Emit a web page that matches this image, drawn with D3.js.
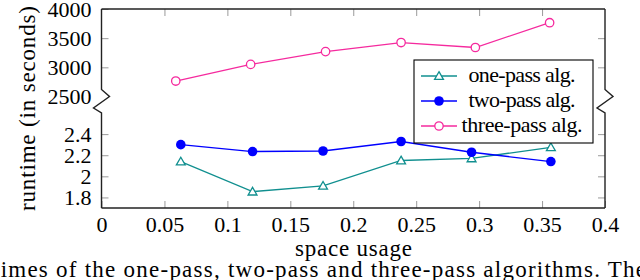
<!DOCTYPE html>
<html>
<head>
<meta charset="utf-8">
<script src="https://cdn.jsdelivr.net/npm/d3@7"></script>
<style>
  body { margin: 0; background: #fff; }
  svg { display: block; }
</style>
</head>
<body>
<div id="chart"></div>
<script>
// Data
let xTicks = [0, 0.05, 0.1, 0.15, 0.2, 0.25, 0.3, 0.35, 0.4];
let upperTicks = [2500, 3000, 3500, 4000];
let lowerTicks = [1.8, 2, 2.2, 2.4];

let onePassX = [0.063, 0.120, 0.176, 0.238, 0.294, 0.357];
let onePassY = [2.14, 1.855, 1.91, 2.15, 2.17, 2.275];

let twoPassX = [0.063, 0.120, 0.176, 0.238, 0.294, 0.357];
let twoPassY = [2.30, 2.235, 2.24, 2.33, 2.228, 2.14];

let threePassX = [0.059, 0.1185, 0.178, 0.238, 0.297, 0.356];
let threePassY = [2765, 3050, 3270, 3425, 3340, 3765];

let legendNames = ["one-pass alg.", "two-pass alg.", "three-pass alg."];

let svgWidth = 640;
let svgHeight = 280;
let font = "'Liberation Serif'";

let svg = d3.select("#chart")
  .append("svg")
  .attr("width", svgWidth)
  .attr("height", svgHeight);

// plot frame
let plotLeft = 101.5, plotRight = 605, plotTop = 9, plotBottom = 208;

let x = d3.scaleLinear().domain([0, 0.4]).range([plotLeft, plotRight]);
// upper part of the broken axis
let yUp = d3.scaleLinear().domain([2500, 4000]).range([96.5, plotTop]);
// lower part
let yLow = d3.scaleLinear().domain([1.7, 2.6]).range([plotBottom, 113]);

let tickLen = 7;
let fontSize = 22;

function styleTicks(g) {
  g.attr("font-family", null).attr("font-size", null);
  g.select(".domain").remove();
  g.selectAll(".tick line").attr("stroke", "#9a9a9a").attr("stroke-width", 1);
  g.selectAll("text")
    .attr("fill", "#000")
    .style("font-family", font)
    .style("font-size", fontSize + "px");
}

// bottom x axis
svg.append("g")
  .attr("transform", `translate(0, ${plotBottom})`)
  .call(d3.axisBottom(x).tickValues(xTicks).tickSizeInner(-tickLen).tickSizeOuter(0)
    .tickPadding(8).tickFormat(d => String(d)))
  .call(styleTicks);

// top x ticks (no labels)
svg.append("g")
  .attr("transform", `translate(0, ${plotTop})`)
  .call(d3.axisTop(x).tickValues(xTicks.slice(1, -1)).tickSizeInner(-tickLen).tickSizeOuter(0).tickFormat(""))
  .call(styleTicks);

// left y axes
svg.append("g")
  .attr("transform", `translate(${plotLeft}, 0)`)
  .call(d3.axisLeft(yUp).tickValues(upperTicks).tickSizeInner(-tickLen).tickSizeOuter(0)
    .tickPadding(10).tickFormat(d => String(d)))
  .call(styleTicks);

svg.append("g")
  .attr("transform", `translate(${plotLeft}, 0)`)
  .call(d3.axisLeft(yLow).tickValues(lowerTicks).tickSizeInner(-tickLen).tickSizeOuter(0)
    .tickPadding(10).tickFormat(d => String(d)))
  .call(styleTicks);

// right y ticks (mirrored)
svg.append("g")
  .attr("transform", `translate(${plotRight}, 0)`)
  .call(d3.axisRight(yUp).tickValues(upperTicks.slice(0, -1)).tickSizeInner(-tickLen).tickSizeOuter(0).tickFormat(""))
  .call(styleTicks);

svg.append("g")
  .attr("transform", `translate(${plotRight}, 0)`)
  .call(d3.axisRight(yLow).tickValues(lowerTicks).tickSizeInner(-tickLen).tickSizeOuter(0).tickFormat(""))
  .call(styleTicks);

// hide the 2500 tick lines that sit on the break
svg.selectAll(".tick").filter(d => d === 2500).select("line").remove();

// frame with break zigzags
let bTop = yUp(2620), bMid1 = yUp(2500), bMid2 = yLow(2.6) - 5, bBot = yLow(2.6);
function sidePath(xx) {
  return [[xx, plotTop], [xx, bTop], [xx + 8, bMid1], [xx - 8, bMid2], [xx, bBot], [xx, plotBottom]];
}
let line = d3.line();
svg.append("path")
  .attr("d", line(sidePath(plotLeft)))
  .attr("fill", "none").attr("stroke", "#222").attr("stroke-width", 1.4);
svg.append("path")
  .attr("d", line(sidePath(plotRight)))
  .attr("fill", "none").attr("stroke", "#222").attr("stroke-width", 1.4);
svg.append("path")
  .attr("d", line([[plotLeft, plotTop], [plotRight, plotTop]]))
  .attr("stroke", "#222").attr("stroke-width", 1.4);
svg.append("path")
  .attr("d", line([[plotLeft, plotBottom], [plotRight, plotBottom]]))
  .attr("stroke", "#222").attr("stroke-width", 1.4);

// series
let teal = "#108f8f", blue = "#0000ff", pink = "#f52a9e";

let series = [
  { xs: onePassX, ys: onePassY, scale: yLow, color: teal, marker: "tri" },
  { xs: twoPassX, ys: twoPassY, scale: yLow, color: blue, marker: "dot" },
  { xs: threePassX, ys: threePassY, scale: yUp, color: pink, marker: "ring" }
];

let triangle = d3.symbol().type(d3.symbolTriangle).size(34);

function drawMarker(g, marker, color) {
  if (marker === "tri") {
    g.append("path").attr("d", triangle()).attr("transform", "translate(0,0.8)")
      .attr("fill", "#fff").attr("stroke", color).attr("stroke-width", 1.3);
  } else if (marker === "dot") {
    g.append("circle").attr("r", 4.8).attr("fill", color);
  } else {
    g.append("circle").attr("r", 4.2).attr("fill", "#fff").attr("stroke", color).attr("stroke-width", 1.3);
  }
}

series.forEach(s => {
  let pts = s.xs.map((v, i) => [x(v), s.scale(s.ys[i])]);
  svg.append("path")
    .attr("d", line(pts))
    .attr("fill", "none")
    .attr("stroke", s.color)
    .attr("stroke-width", 1.3);
  svg.selectAll(null)
    .data(pts)
    .enter()
    .append("g")
    .attr("transform", d => `translate(${d[0]}, ${d[1]})`)
    .each(function() { drawMarker(d3.select(this), s.marker, s.color); });
});

// legend
let legend = svg.append("g");
legend.append("rect")
  .attr("x", 414).attr("y", 60).attr("width", 179).attr("height", 83)
  .attr("fill", "#fff").attr("stroke", "#000").attr("stroke-width", 1.1);

let legendWidths = [107, 107, 121];
series.forEach((s, i) => {
  let row = legend.append("g").attr("transform", `translate(0, ${76 + i * 25})`);
  row.append("line")
    .attr("x1", 421).attr("x2", 457)
    .attr("stroke", s.color).attr("stroke-width", 1.3);
  let m = row.append("g").attr("transform", "translate(439, 0)");
  drawMarker(m, s.marker, s.color);
  row.append("text")
    .attr("x", 522 - legendWidths[i] / 2).attr("y", 6)
    .style("font-family", font)
    .style("font-size", "22px")
    .attr("textLength", legendWidths[i])
    .attr("lengthAdjust", "spacing")
    .text(legendNames[i]);
});

// axis labels
svg.append("text")
  .attr("x", 295)
  .attr("y", 256)
  .style("font-family", font)
  .style("font-size", "23px")
  .attr("textLength", 117)
  .attr("lengthAdjust", "spacing")
  .text("space usage");

svg.append("text")
  .attr("transform", "rotate(-90)")
  .attr("x", -211)
  .attr("y", 35)
  .style("font-family", font)
  .style("font-size", "23px")
  .attr("textLength", 205)
  .attr("lengthAdjust", "spacing")
  .text("runtime (in seconds)");

// caption line, cut off by the picture edge
svg.append("text")
  .attr("x", -7)
  .attr("y", 277)
  .style("font-family", font)
  .style("font-size", "23px")
  .attr("textLength", 653)
  .attr("lengthAdjust", "spacing")
  .text("times of the one-pass, two-pass and three-pass algorithms. The");
</script>
</body>
</html>
